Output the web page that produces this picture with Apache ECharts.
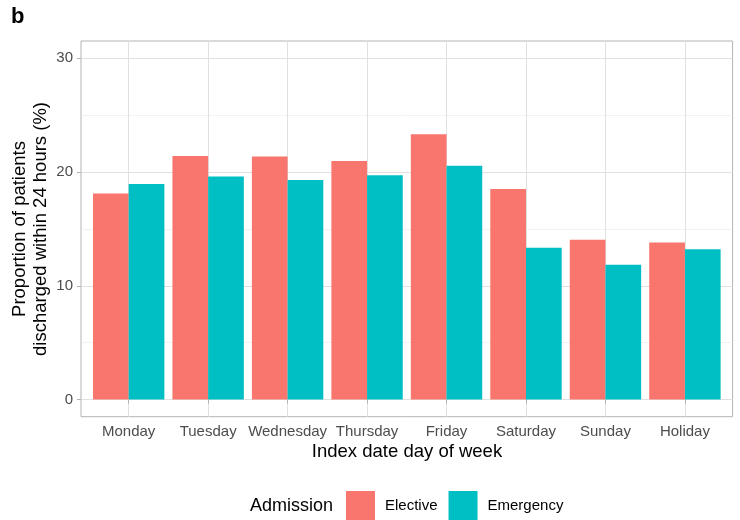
<!DOCTYPE html>
<html>
<head>
<meta charset="utf-8">
<script src="https://cdn.jsdelivr.net/npm/echarts@6/dist/echarts.min.js"></script>
<style>html,body{margin:0;padding:0;background:#fff}#c{width:740px;height:520px}</style>
</head>
<body>
<div id="c"></div>
<script>
const days = ["Monday","Tuesday","Wednesday","Thursday","Friday","Saturday","Sunday","Holiday"];
const elective = [18.1, 21.4, 21.35, 20.95, 23.3, 18.5, 14.05, 13.8];
const emergency = [18.95, 19.6, 19.3, 19.7, 20.55, 13.35, 11.85, 13.2];
const yTicks = [0, 10, 20, 30];
const yMinor = [5, 15, 25];
const seriesNames = ["Elective", "Emergency"];
const yTitle = "Proportion of patients\ndischarged within 24 hours (%)";
const xTitle = "Index date day of week";

const FONT = "Liberation Sans, Arial, Helvetica, sans-serif";
const xPos = days.map((d, i) => i + 1);
const chart = echarts.init(document.getElementById('c'), null, {renderer: 'canvas'});
chart.setOption({
  animation: false,
  textStyle: {fontFamily: FONT},
  grid: {left: 81, right: 7.4, top: 41, bottom: 103.3, containLabel: false, outerBoundsMode: 'none',
         show: true, borderColor: '#b3b3b3', borderWidth: 1, backgroundColor: 'transparent'},
  graphic: [
    {type: 'text', left: 11, top: 6, style: {text: 'b', font: 'bold 22px ' + FONT, fill: '#000'}},
    {type: 'text', left: 250, top: 497, style: {text: 'Admission', font: '18px ' + FONT, fill: '#000'}},
    {type: 'text', x: 30, y: 229, rotation: Math.PI / 2,
     style: {text: yTitle, font: '18.5px ' + FONT, lineHeight: 21, fill: '#000', align: 'center', verticalAlign: 'middle'}},
    {type: 'text', x: 407, y: 452,
     style: {text: xTitle, font: '18.5px ' + FONT, fill: '#000', align: 'center', verticalAlign: 'middle'}}
  ],
  legend: {
    left: 346, top: 491, padding: 0, itemWidth: 29, itemHeight: 29, itemGap: 11,
    icon: 'rect',
    textStyle: {fontSize: 15, color: '#000', fontFamily: FONT, padding: [0, 0, 0, 5]},
    data: seriesNames
  },
  xAxis: {
    type: 'value', min: 0.4, max: 8.6,
    axisLine: {show: false},
    axisTick: {show: true, length: 4, lineStyle: {color: '#b3b3b3'}, customValues: xPos},
    axisLabel: {customValues: xPos, formatter: v => days[Math.round(v) - 1], fontSize: 15, color: '#4d4d4d', margin: 8, fontFamily: FONT},
    splitLine: {show: true, lineStyle: {color: '#e0e0e0', width: 1}}
  },
  yAxis: [{
    type: 'value', min: -1.5, max: 31.5,
    axisLine: {show: false},
    axisTick: {show: true, length: 4, lineStyle: {color: '#b3b3b3'}, customValues: yTicks},
    axisLabel: {customValues: yTicks, fontSize: 15, color: '#4d4d4d', margin: 8, fontFamily: FONT},
    splitLine: {show: true, lineStyle: {color: '#e0e0e0', width: 1}}
  }, {
    type: 'value', min: -1.5, max: 31.5, position: 'left',
    axisLine: {show: false},
    axisTick: {show: false, customValues: yMinor},
    axisLabel: {show: false, customValues: yMinor},
    splitLine: {show: true, lineStyle: {color: '#ececec', width: 0.7}}
  }],
  series: [
    {name: seriesNames[0], type: 'bar', barWidth: 35.7, barGap: '0%', itemStyle: {color: '#F8766D'},
     data: elective.map((v, i) => [xPos[i], v])},
    {name: seriesNames[1], type: 'bar', barWidth: 35.7, barGap: '0%', itemStyle: {color: '#00BFC4'},
     data: emergency.map((v, i) => [xPos[i], v])}
  ]
});
</script>
</body>
</html>
